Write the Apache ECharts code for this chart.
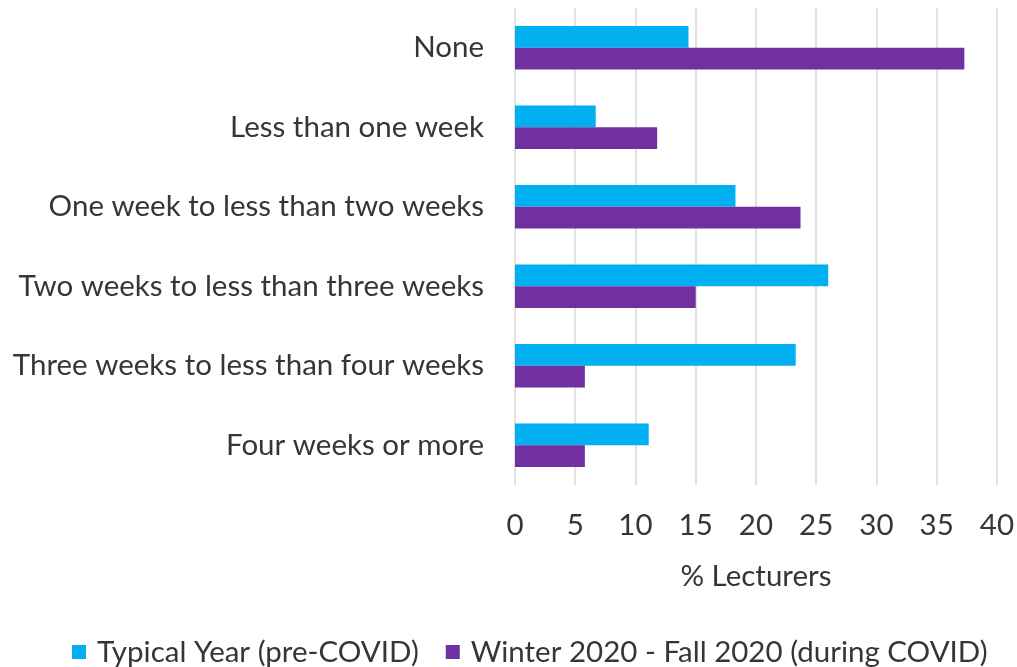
<!DOCTYPE html>
<html>
<head>
<meta charset="utf-8">
<script src="https://cdn.jsdelivr.net/npm/echarts@6/dist/echarts.min.js"></script>
<style>
html,body{margin:0;padding:0;background:#fff;}
#chart{width:1017px;height:667px;}
</style>
</head>
<body>
<div id="chart"></div>
<script>
const categories = [
  "None",
  "Less than one week",
  "One week to less than two weeks",
  "Two weeks to less than three weeks",
  "Three weeks to less than four weeks",
  "Four weeks or more"
];
const seriesNames = ["Typical Year (pre-COVID)", "Winter 2020 - Fall 2020 (during COVID)"];
const typicalYear = [14.4, 6.7, 18.3, 26.0, 23.3, 11.1];
const duringCovid = [37.3, 11.8, 23.7, 15.0, 5.8, 5.8];
const xTicks = [0, 5, 10, 15, 20, 25, 30, 35, 40];

const FONT = 'Lato, "Open Sans", sans-serif';
const FS = 29.5;
const TEXT = '#363636';

const chart = echarts.init(document.getElementById('chart'), null, {renderer: 'canvas'});
chart.setOption({
  animation: false,
  textStyle: {fontFamily: FONT},
  grid: {left: 515, right: 19, top: 8, bottom: 182, containLabel: false},
  legend: {
    top: 632,
    left: 67,
    itemWidth: 14,
    itemHeight: 14,
    itemGap: 27,
    icon: 'rect',
    textStyle: {fontFamily: FONT, fontSize: FS, color: TEXT, padding: [0, 0, 0, 6]},
    data: seriesNames
  },
  xAxis: {
    type: 'value',
    min: xTicks[0],
    max: xTicks[xTicks.length - 1],
    interval: xTicks[1] - xTicks[0],
    name: '% Lecturers',
    nameLocation: 'middle',
    nameGap: 76,
    nameTextStyle: {fontFamily: FONT, fontSize: FS, color: TEXT},
    axisLine: {show: false},
    axisTick: {show: false},
    axisLabel: {fontFamily: FONT, fontSize: FS, color: TEXT, margin: 25},
    splitLine: {show: true, lineStyle: {color: '#d9d9d9', width: 1.5}}
  },
  yAxis: {
    type: 'category',
    data: categories,
    inverse: true,
    axisLine: {show: false},
    axisTick: {show: false},
    axisLabel: {fontFamily: FONT, fontSize: FS, color: TEXT, margin: 31}
  },
  series: [
    {name: seriesNames[0], type: 'bar', data: typicalYear, itemStyle: {color: '#00B0F0'},
     barGap: '0%', barCategoryGap: '45%'},
    {name: seriesNames[1], type: 'bar', data: duringCovid, itemStyle: {color: '#7030A0'},
     barGap: '0%', barCategoryGap: '45%'}
  ]
});
</script>
</body>
</html>
